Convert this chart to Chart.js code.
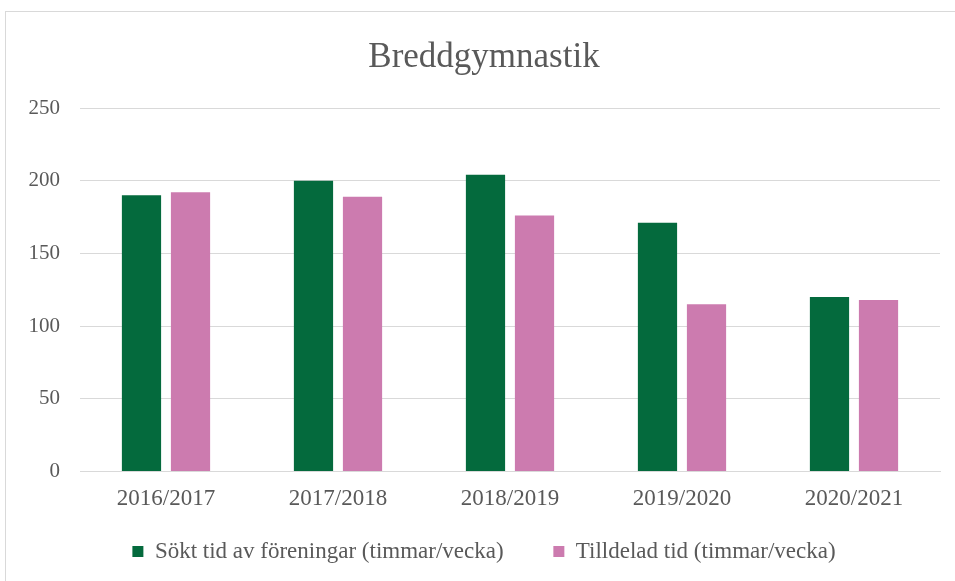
<!DOCTYPE html>
<html>
<head>
<meta charset="utf-8">
<script src="https://cdn.jsdelivr.net/npm/chart.js@4/dist/chart.umd.min.js"></script>
<style>
  body { margin: 0; background: #fff; }
  #wrap {
    position: absolute; left: 5px; top: 11px;
    width: 960px; height: 580px;
    border: 1px solid #d9d9d9; box-sizing: border-box;
  }
  #box { position: absolute; left: 0; top: 0; width: 948px; height: 568px; }
</style>
</head>
<body>
<div id="wrap"><div id="box"><canvas id="chart"></canvas></div></div>
<script>
// data
const seasons = ["2016/2017", "2017/2018", "2018/2019", "2019/2020", "2020/2021"];
const soktTid = [190, 200, 204, 171, 120];
const tilldeladTid = [192, 189, 176, 115, 118];

const grey = "#595959";
const serif = "'Liberation Serif', 'DejaVu Serif', serif";

new Chart(document.getElementById("chart"), {
  type: "bar",
  data: {
    labels: seasons,
    datasets: [
      { label: "Sökt tid av föreningar (timmar/vecka)", data: soktTid, backgroundColor: "#046A3D" },
      { label: "Tilldelad tid (timmar/vecka)", data: tilldeladTid, backgroundColor: "#CC7BAF" }
    ]
  },
  options: {
    responsive: true,
    maintainAspectRatio: false,
    animation: false,
    layout: { padding: { left: 22, right: 14, top: 0, bottom: 7 } },
    datasets: { bar: { categoryPercentage: 0.57, barPercentage: 0.8 } },
    plugins: {
      title: {
        display: true,
        text: "Breddgymnastik",
        color: grey,
        font: { family: serif, size: 35, weight: "normal" },
        padding: { top: 25, bottom: 29 }
      },
      legend: {
        position: "bottom",
        labels: {
          color: grey,
          font: { family: serif, size: 23 },
          boxWidth: 11,
          boxHeight: 11,
          padding: 21,
          // wider gap between the two items, like the original legend
          generateLabels: chart => {
            const items = Chart.defaults.plugins.legend.labels.generateLabels(chart);
            items[0].text += "     ";
            return items;
          }
        }
      },
      tooltip: { enabled: false }
    },
    scales: {
      x: {
        grid: { display: false },
        border: { color: "#d9d9d9" },
        ticks: { color: grey, font: { family: serif, size: 23 }, padding: 6 }
      },
      y: {
        min: 0, max: 250,
        afterFit: s => { s.width = 52; },
        grid: { color: "#d9d9d9", drawTicks: false },
        border: { display: false },
        ticks: { stepSize: 50, color: grey, font: { family: serif, size: 21 }, padding: 20 }
      }
    }
  }
});
</script>
</body>
</html>
